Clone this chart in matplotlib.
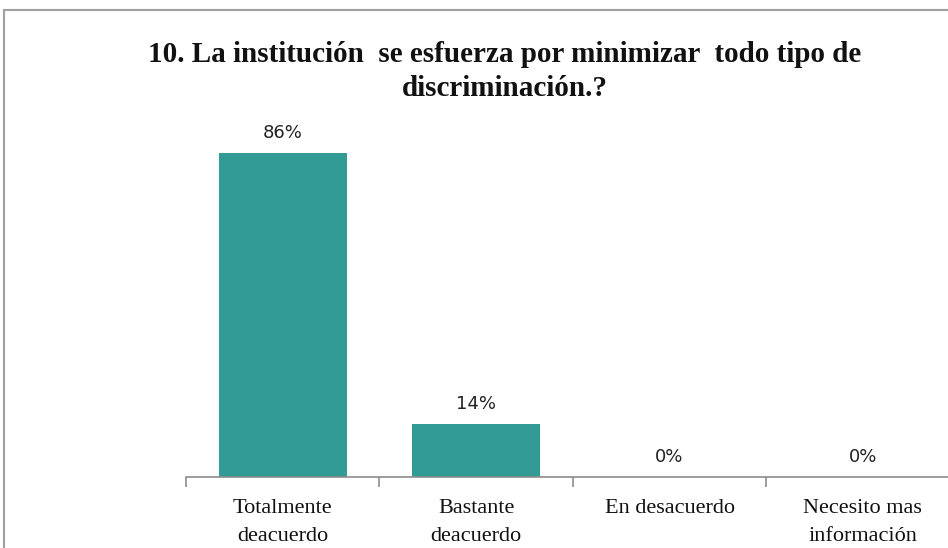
import matplotlib.pyplot as plt
from matplotlib.patches import Rectangle

categorias = ["Totalmente\ndeacuerdo", "Bastante\ndeacuerdo", "En desacuerdo", "Necesito mas\ninformación"]
porcentajes = [86, 14, 0, 0]
etiquetas = ["86%", "14%", "0%", "0%"]
titulo = "10. La institución  se esfuerza por minimizar  todo tipo de\ndiscriminación.?"

color_barra = "#339B95"
gris = "#8c8c8c"

fig = plt.figure(figsize=(9.48, 5.48), dpi=100)

# marco del grafico (recortado a la derecha y abajo)
fig.patches.append(Rectangle((4 / 948, -0.1), 1.2, 1 - 10 / 548 + 0.1,
                             transform=fig.transFigure, fill=False,
                             edgecolor="#a0a0a0", linewidth=1.5, clip_on=False))

ax = fig.add_axes([186 / 948, 1 - 477 / 548, 1 - 186 / 948, (477 - 130) / 548])
x = list(range(len(categorias)))
ax.bar(x, porcentajes, width=0.66, color=color_barra)

for xi, v, t in zip(x, porcentajes, etiquetas):
    ax.annotate(t, (xi, v), xytext=(0, 8), textcoords="offset points",
                ha="center", va="bottom", fontsize=13, family="DejaVu Sans",
                color="#222222")

for s in ["top", "right", "left"]:
    ax.spines[s].set_visible(False)
ax.spines["bottom"].set_color(gris)
ax.spines["bottom"].set_linewidth(1.2)
ax.set_yticks([])

# marcas entre categorias, etiquetas centradas
ax.set_xticks([-0.5, 0.5, 1.5, 2.5, 3.5])
ax.set_xticklabels([])
ax.tick_params(axis="x", which="major", length=7, width=1.2, color=gris, direction="out")
ax.set_xticks(x, minor=True)
ax.set_xticklabels(categorias, minor=True, family="Liberation Serif", fontsize=16,
                   linespacing=1.6, color="#111111")
ax.tick_params(axis="x", which="minor", length=0, pad=16)

ax.set_xlim(-0.5, 3.44)
ax.set_ylim(0, 92)

fig.text(505 / 948, 1 - 71.5 / 548, titulo, ha="center", va="center",
         family="Liberation Serif", fontweight="bold", fontsize=21,
         linespacing=1.3, color="#111111")

fig.savefig("out.png", dpi=100)
